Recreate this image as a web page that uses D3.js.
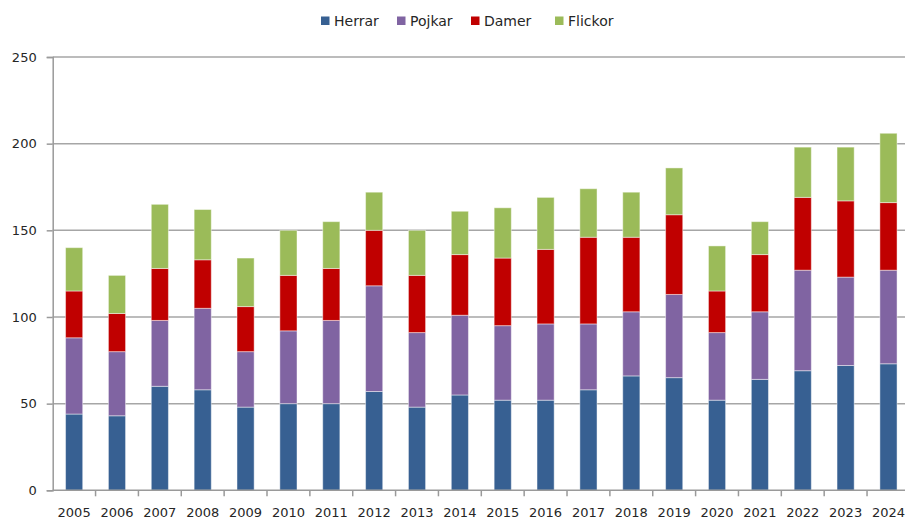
<!DOCTYPE html>
<html>
<head>
<meta charset="utf-8">
<script src="https://cdn.jsdelivr.net/npm/d3@7"></script>
<style>
  body { margin: 0; background: #fff; }
  svg { display: block; }
</style>
</head>
<body>
<div id="chart"></div>
<script>
// data
const years = ['2005','2006','2007','2008','2009','2010','2011','2012','2013','2014',
               '2015','2016','2017','2018','2019','2020','2021','2022','2023','2024'];
const herrar  = [44, 43, 60, 58, 48, 50, 50, 57, 48, 55, 52, 52, 58, 66, 65, 52, 64, 69, 72, 73];
const pojkar  = [44, 37, 38, 47, 32, 42, 48, 61, 43, 46, 43, 44, 38, 37, 48, 39, 39, 58, 51, 54];
const damer   = [27, 22, 30, 28, 26, 32, 30, 32, 33, 35, 39, 43, 50, 43, 46, 24, 33, 42, 44, 39];
const flickor = [25, 22, 37, 29, 28, 26, 27, 22, 26, 25, 29, 30, 28, 26, 27, 26, 19, 29, 31, 40];
const seriesNames = ['Herrar', 'Pojkar', 'Damer', 'Flickor'];
const yTicks = [0, 50, 100, 150, 200, 250];

const colors = {
    Herrar: '#376092',
    Pojkar: '#8064a2',
    Damer: '#c00000',
    Flickor: '#9bbb59'
};

const width = 905;
const height = 521;
const margin = {top: 57, left: 52.7, bottom: 30.7};
const plotWidth = 857.2;   // last slot runs past the right edge, as in the reference
const fontFamily = `'DejaVu Sans', Verdana, sans-serif`;
const textColor = '#262626';
const gridColor = '#a6a6a6';
const axisColor = '#9a9a9a';

const rows = years.map((y, i) => ({
    year: y,
    Herrar: herrar[i],
    Pojkar: pojkar[i],
    Damer: damer[i],
    Flickor: flickor[i]
}));

const stacked = d3.stack().keys(seriesNames)(rows);

const xScale = d3.scaleBand()
    .domain(years)
    .range([margin.left, margin.left + plotWidth])
    .paddingInner(0.6)
    .paddingOuter(0.3);

const yScale = d3.scaleLinear()
    .domain([0, 250])
    .range([height - margin.bottom, margin.top]);

const svg = d3.select('#chart')
    .append('svg')
    .attr('width', width)
    .attr('height', height);

// gridlines
svg.append('g')
    .selectAll('line')
    .data(yTicks.filter(t => t > 0))
    .join('line')
    .attr('x1', margin.left)
    .attr('x2', width)
    .attr('y1', d => yScale(d))
    .attr('y2', d => yScale(d))
    .attr('stroke', gridColor)
    .attr('stroke-width', 1.5);

// bars
svg.append('g')
    .selectAll('g')
    .data(stacked)
    .join('g')
    .attr('fill', d => colors[d.key])
    .selectAll('rect')
    .data(d => d)
    .join('rect')
    .attr('x', d => xScale(d.data.year))
    .attr('width', xScale.bandwidth())
    .attr('y', d => yScale(d[1]))
    .attr('height', d => yScale(d[0]) - yScale(d[1]))
    .attr('stroke', '#ffffff')
    .attr('stroke-opacity', 0.45)
    .attr('stroke-width', 1);

// y axis
const yAxis = svg.append('g')
    .attr('transform', `translate(${margin.left},0)`)
    .call(d3.axisLeft(yScale).tickValues(yTicks).tickSize(6).tickPadding(10))
    .call(g => g.select('.domain').attr('stroke', axisColor).attr('stroke-width', 1.5))
    .call(g => g.selectAll('.tick line').attr('stroke', axisColor).attr('stroke-width', 1.5))
    .call(g => g.selectAll('.tick text')
        .style('font-family', fontFamily)
        .style('font-size', '13px')
        .attr('fill', textColor));

// x axis, ticks sit between categories
const xAxis = svg.append('g')
    .attr('transform', `translate(0,${yScale(0)})`);

xAxis.append('line')
    .attr('x1', margin.left)
    .attr('x2', width)
    .attr('stroke', axisColor)
    .attr('stroke-width', 1.5);

const step = xScale.step();
xAxis.selectAll('.sep')
    .data(years)
    .join('line')
    .attr('class', 'sep')
    .attr('x1', d => xScale(d) - xScale.bandwidth() * 0 - step * 0.3 + step)
    .attr('x2', d => xScale(d) - step * 0.3 + step)
    .attr('y1', 0)
    .attr('y2', 6)
    .attr('stroke', axisColor)
    .attr('stroke-width', 1.5);

xAxis.selectAll('.lbl')
    .data(years)
    .join('text')
    .attr('class', 'lbl')
    .attr('x', d => xScale(d) + xScale.bandwidth() / 2)
    .attr('y', 27)
    .attr('text-anchor', 'middle')
    .style('font-family', fontFamily)
    .style('font-size', '13px')
    .attr('fill', textColor)
    .text(d => d);

// legend
const legendX = [321, 397, 471, 555];
const legend = svg.append('g')
    .selectAll('g')
    .data(seriesNames)
    .join('g')
    .attr('transform', (d, i) => `translate(${legendX[i]},21)`);

legend.append('rect')
    .attr('x', 0)
    .attr('y', -4.5)
    .attr('width', 8.5)
    .attr('height', 8.5)
    .attr('fill', d => colors[d]);

legend.append('text')
    .attr('x', 13)
    .attr('y', 5)
    .style('font-family', fontFamily)
    .style('font-size', '14px')
    .attr('fill', textColor)
    .text(d => d);
</script>
</body>
</html>
